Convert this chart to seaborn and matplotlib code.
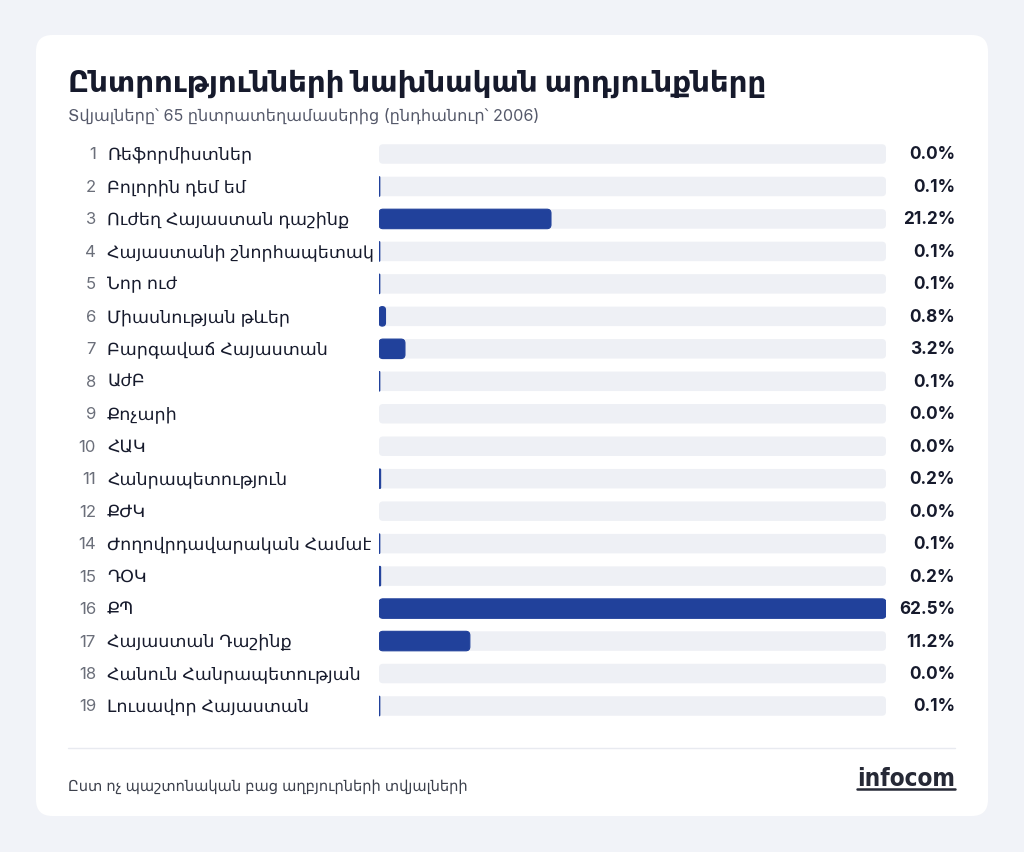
import matplotlib
matplotlib.use("Agg")
import matplotlib.pyplot as plt
import seaborn as sns
import pandas as pd
from matplotlib.patches import FancyBboxPatch
from matplotlib.transforms import blended_transform_factory
from matplotlib.lines import Line2D

# data
numbers = [1, 2, 3, 4, 5, 6, 7, 8, 9, 10, 11, 12, 14, 15, 16, 17, 18, 19]
parties = [
    "Ռեֆորմիստներ", "Բոլորին դեմ եմ", "Ուժեղ Հայաստան դաշինք",
    "Հայաստանի շնորհապետակ", "Նոր ուժ", "Միասնության թևեր",
    "Բարգավաճ Հայաստան", "ԱժԲ", "Քոչարի", "ՀԱԿ", "Հանրապետություն",
    "ՔԺԿ", "Ժողովրդավարական Համաէ", "ԴՕԿ", "ՔՊ", "Հայաստան Դաշինք",
    "Հանուն Հանրապետության", "Լուսավոր Հայաստան",
]
shares = [0.0, 0.1, 21.2, 0.1, 0.1, 0.8, 3.2, 0.1, 0.0, 0.0,
          0.2, 0.0, 0.1, 0.2, 62.5, 11.2, 0.0, 0.1]

title = "Ընտրությունների նախնական արդյունքները"
subtitle = "Տվյալները՝ 65 ընտրատեղամասերից (ընդհանուր՝ 2006)"
footer = "Ըստ ոչ պաշտոնական բաց աղբյուրների տվյալների"

df = pd.DataFrame({"party": parties, "share": shares})
df["track"] = df["share"].max()

BG = "#f1f3f8"
TRACK = "#eef0f5"
BAR = "#21419b"
DARK = "#161a2c"
GRAY = "#6b6f7a"

sns.set_theme(style="white")
plt.rcParams["font.family"] = ["Inter", "DejaVu Sans"]

W, H = 1024, 853
fig = plt.figure(figsize=(W / 100, H / 100), dpi=100, facecolor=BG)

# white card
card = FancyBboxPatch((36 / W, 1 - 817 / H), (988 - 36) / W, (817 - 36) / H,
                      boxstyle="round,pad=0,rounding_size=0.016",
                      mutation_aspect=W / H, transform=fig.transFigure,
                      facecolor="white", edgecolor="none", zorder=-5)
fig.patches.append(card)

row_h = (707 - 155) / (len(parties) - 1)
ax_top = 155 - row_h / 2
ax_bot = 707 + row_h / 2
ax = fig.add_axes([379 / W, 1 - ax_bot / H, (886 - 379) / W, (ax_bot - ax_top) / H])
ax.set_facecolor("none")
ax.set_zorder(2)

sns.barplot(data=df, x="track", y="party", color=TRACK, width=0.6,
            orient="h", ax=ax, saturation=1)
sns.barplot(data=df, x="share", y="party", color=BAR, width=0.6,
            orient="h", ax=ax, saturation=1)

ax.set_xlim(0, df["track"].max())
ax.set_ylim(len(parties) - 0.5, -0.5)

# rounded bars
px_x = (886 - 379) / df["track"].max()
px_y = row_h
radius_px = 4
old = list(ax.patches)
for p in old:
    x, y = p.get_x(), p.get_y()
    w, h = p.get_width(), p.get_height()
    fc = p.get_facecolor()
    p.remove()
    if w <= 0:
        continue
    r = min(radius_px / px_x, w / 2)
    aspect = (radius_px / px_y) / (radius_px / px_x)
    is_bar = fc[2] < 0.8
    nb = FancyBboxPatch((x, y), w, h,
                        boxstyle=f"round,pad=0,rounding_size={r}",
                        mutation_aspect=aspect, facecolor=fc,
                        edgecolor=fc if is_bar else "none",
                        linewidth=0.8 if is_bar else 0,
                        zorder=3 if is_bar else 2)
    ax.add_patch(nb)

ax.set_xticks([])
ax.set_yticks([])
ax.set_xlabel("")
ax.set_ylabel("")
sns.despine(ax=ax, left=True, bottom=True)

tr = blended_transform_factory(fig.transFigure, ax.transData)
for i, (n, name, v) in enumerate(zip(numbers, parties, shares)):
    ax.text(96 / W, i, str(n), transform=tr, ha="right", va="center",
            fontsize=12, color=GRAY, clip_on=False)
    ax.text(107 / W, i, name, transform=tr, ha="left", va="center",
            fontsize=12.6, color=DARK, clip_on=False)
    ax.text(955 / W, i, f"{v:.1f}%", transform=tr, ha="right", va="center",
            fontsize=12.4, color=DARK, fontweight="bold", clip_on=False)

fig.text(68 / W, 1 - 84 / H, title, ha="left", va="center",
         fontsize=21.1, fontweight="bold", color=DARK)
fig.text(68 / W, 1 - 116 / H, subtitle, ha="left", va="center",
         fontsize=11.6, color="#55596a")

fig.add_artist(Line2D([68 / W, 955 / W], [1 - 749 / H, 1 - 749 / H],
                      transform=fig.transFigure, color="#e8eaf0", lw=1))
fig.text(68 / W, 1 - 787 / H, footer, ha="left", va="center",
         fontsize=10.5, color="#3c404c")

# logo
fig.text(955 / W, 1 - 786 / H, "infocom", ha="right", va="baseline",
         fontsize=17.5, color="#262936", fontweight="bold",
         fontstretch="condensed", family=["DejaVu Sans"])
fig.add_artist(Line2D([857 / W, 955 / W], [1 - 790 / H, 1 - 790 / H],
                      transform=fig.transFigure, color="#262936", lw=1.8))

fig.savefig("out.png", dpi=100, facecolor=BG)
